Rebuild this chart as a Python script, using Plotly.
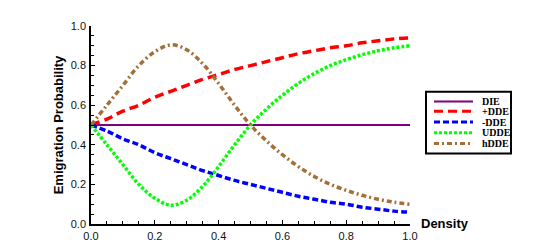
import plotly.graph_objects as go

density = [0.00, 0.05, 0.10, 0.15, 0.20, 0.25, 0.30, 0.35, 0.40, 0.45, 0.50,
           0.55, 0.60, 0.65, 0.70, 0.75, 0.80, 0.85, 0.90, 0.95, 1.00]

die = [0.50] * 21
plus_dde = [0.50, 0.53, 0.57, 0.60, 0.64, 0.67, 0.70, 0.73, 0.755, 0.78, 0.80,
            0.82, 0.84, 0.86, 0.875, 0.89, 0.90, 0.915, 0.925, 0.935, 0.94]
minus_dde = [0.50, 0.47, 0.43, 0.40, 0.36, 0.33, 0.30, 0.27, 0.245, 0.22, 0.20,
             0.18, 0.16, 0.14, 0.125, 0.11, 0.10, 0.085, 0.075, 0.065, 0.06]
u_dde = [0.50, 0.40, 0.30, 0.20, 0.13, 0.095, 0.12, 0.19, 0.29, 0.40, 0.50,
         0.58, 0.65, 0.71, 0.76, 0.80, 0.83, 0.855, 0.875, 0.89, 0.90]
h_dde = [0.50, 0.60, 0.70, 0.80, 0.87, 0.905, 0.88, 0.81, 0.71, 0.60, 0.50,
         0.42, 0.35, 0.29, 0.24, 0.20, 0.17, 0.145, 0.125, 0.11, 0.10]

names = ["DIE", "+DDE", "-DDE", "UDDE", "hDDE"]
series = [die, plus_dde, minus_dde, u_dde, h_dde]
colors = ["#800080", "#ff0000", "#0000ff", "#00ff00", "#a3703a"]
dashes = ["solid", "9px,5px", "6px,3px", "3px,2px", "5px,3px,2px,3px"]
widths = [2, 3.5, 3.5, 3.5, 3.5]

x_ticks = [0.0, 0.2, 0.4, 0.6, 0.8, 1.0]
y_ticks = [0.0, 0.2, 0.4, 0.6, 0.8, 1.0]

fig = go.Figure()
for n, s, c, d, w in zip(names, series, colors, dashes, widths):
    fig.add_trace(go.Scatter(x=density, y=s, mode="lines", name=n,
                             line=dict(color=c, dash=d, width=w, shape="spline"),
                             showlegend=False))

W, H = 558, 246
L, R, T, B = 83, 156, 18, 26
pw, ph = W - L - R, H - T - B

def px(xp):
    return (xp - L) / pw

def py(yp):
    return (H - B - yp) / ph

shapes = [dict(type="rect", xref="paper", yref="paper",
               x0=px(418), x1=px(503), y0=py(148), y1=py(85),
               line=dict(color="black", width=2), fillcolor="white", layer="above")]
annotations = []
rows = [95, 105, 116, 127, 138]
for n, c, d, w, r in zip(names, colors, dashes, widths, rows):
    shapes.append(dict(type="line", xref="paper", yref="paper",
                       x0=px(426), x1=px(465), y0=py(r), y1=py(r),
                       line=dict(color=c, dash=d, width=min(w, 3)), layer="above"))
    annotations.append(dict(text="<b>%s</b>" % n, xref="paper", yref="paper",
                            x=px(472), y=py(r), xanchor="left", yanchor="middle",
                            showarrow=False,
                            font=dict(family="Liberation Serif", size=10, color="black")))

annotations.append(dict(text="<b>Density</b>", xref="paper", yref="paper",
                        x=px(411), y=py(219), xanchor="left", yanchor="middle",
                        showarrow=False,
                        font=dict(family="Liberation Sans", size=13, color="black")))

axis_common = dict(range=[0, 1], showgrid=False, zeroline=False, showline=True,
                   linecolor="black", linewidth=1.5, ticks="inside", ticklen=4,
                   tickcolor="black", tickwidth=1, tickformat=".1f",
                   tickfont=dict(family="Liberation Sans", size=11, color="#111"),
                   minor=dict(dtick=0.05, ticks="inside", ticklen=3,
                              tickcolor="black", tickwidth=1))

fig.update_layout(
    width=W, height=H,
    margin=dict(l=L, r=R, t=T, b=B),
    paper_bgcolor="white", plot_bgcolor="white",
    xaxis=dict(tickvals=x_ticks, ticklabelstandoff=1, **axis_common),
    yaxis=dict(tickvals=y_ticks, ticklabelstandoff=1,
               title=dict(text="<b>Emigration Probability</b>", standoff=4,
                          font=dict(family="Liberation Sans", size=13, color="black")),
               **axis_common),
    shapes=shapes, annotations=annotations,
)
fig.write_html("out.html")
